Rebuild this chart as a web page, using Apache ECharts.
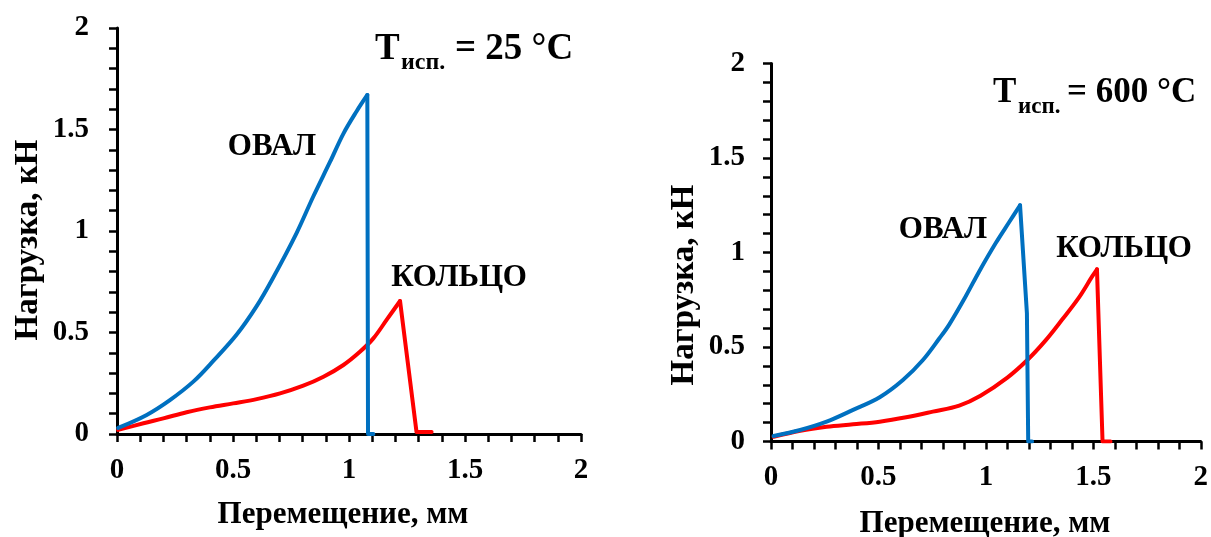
<!DOCTYPE html>
<html>
<head>
<meta charset="utf-8">
<script src="https://cdn.jsdelivr.net/npm/echarts@6/dist/echarts.min.js"></script>
<style>
  html, body { margin: 0; padding: 0; background: #fff; }
  #chart { width: 1211px; height: 537px; }
</style>
</head>
<body>
<div id="chart"></div>
<script>
// Load–displacement curves, test temperature 25 °C
const oval25X = [0.005, 0.128, 0.228, 0.329, 0.415, 0.516, 0.602, 0.673, 0.774, 0.846, 0.918, 0.976, 1.033, 1.079, 1.082, 1.105];
const oval25Y = [0.03, 0.094, 0.167, 0.258, 0.36, 0.49, 0.63, 0.77, 0.99, 1.17, 1.34, 1.48, 1.59, 1.67, 0, 0];
const ring25X = [0.005, 0.114, 0.2, 0.3, 0.4, 0.501, 0.602, 0.703, 0.803, 0.89, 0.976, 1.047, 1.105, 1.162, 1.22, 1.291, 1.356];
const ring25Y = [0.02, 0.053, 0.077, 0.107, 0.131, 0.151, 0.172, 0.2, 0.238, 0.282, 0.34, 0.405, 0.471, 0.562, 0.655, 0.01, 0.01];

// Load–displacement curves, test temperature 600 °C
const oval600X = [0.012, 0.136, 0.259, 0.382, 0.506, 0.614, 0.707, 0.784, 0.83, 0.907, 0.969, 1.046, 1.108, 1.159, 1.191, 1.197, 1.215];
const oval600Y = [0.029, 0.061, 0.105, 0.167, 0.234, 0.325, 0.431, 0.546, 0.62, 0.77, 0.9, 1.05, 1.16, 1.25, 0.678, 0, 0];
const ring600X = [0.012, 0.136, 0.259, 0.382, 0.506, 0.629, 0.753, 0.876, 0.975, 1.1, 1.193, 1.278, 1.355, 1.432, 1.494, 1.517, 1.543, 1.58];
const ring600Y = [0.025, 0.057, 0.078, 0.091, 0.105, 0.128, 0.158, 0.19, 0.242, 0.338, 0.431, 0.535, 0.645, 0.76, 0.872, 0.911, 0, 0];

// Axis range and tick labels
const axisMin = 0, axisMax = 2, tickStep = 0.1;
const tickLabels = ['0', '0.5', '1', '1.5', '2'];

const xTitle = 'Перемещение, мм';
const yTitle = 'Нагрузка, кН';
const ovalName = 'ОВАЛ';
const ringName = 'КОЛЬЦО';

const BLUE = '#0070C0';
const RED = '#FF0000';
const FONT = '"Liberation Serif", "Times New Roman", serif';

function pairs(xs, ys) { return xs.map((x, i) => [x, ys[i]]); }

function labelFmt(v) {
  const k = Math.round(v * 10);
  return k % 5 === 0 ? tickLabels[k / 5] : '';
}

function axis(gridIndex, margin) {
  return {
    gridIndex, type: 'value', min: axisMin, max: axisMax, interval: tickStep,
    axisLine: { show: true, onZero: false, lineStyle: { color: '#000', width: 3 } },
    axisTick: { show: true, length: 8, lineStyle: { color: '#000', width: 2.5 } },
    axisLabel: { formatter: labelFmt, margin, color: '#000', fontFamily: FONT, fontWeight: 'bold', fontSize: 29, showMinLabel: true, showMaxLabel: true },
    splitLine: { show: false }
  };
}

// Loading branch (smooth up to the peak) and fracture branch (straight drop)
function curve(name, gi, xs, ys, color) {
  const data = pairs(xs, ys);
  let peak = 0;
  ys.forEach((y, i) => { if (y > ys[peak]) peak = i; });
  const base = {
    name, type: 'line', xAxisIndex: gi, yAxisIndex: gi,
    showSymbol: false, symbol: 'none', animation: false,
    lineStyle: { color, width: 4, cap: 'round', join: 'round' }, z: color === RED ? 3 : 4
  };
  return [
    Object.assign({}, base, { data: data.slice(0, peak + 1), smooth: 0.35 }),
    Object.assign({}, base, { data: data.slice(peak), smooth: false })
  ];
}
function txt(x, y, text, size, align, rotation) {
  const el = {
    type: 'text', x, y,
    style: { text, font: 'bold ' + size + 'px ' + FONT, fill: '#000', align: align || 'center', verticalAlign: 'middle' }
  };
  if (rotation) el.rotation = rotation;
  return el;
}

const chart = echarts.init(document.getElementById('chart'), null, { renderer: 'canvas' });
chart.setOption({
  animation: false,
  backgroundColor: '#fff',
  grid: [
    { left: 117, top: 28, width: 464, height: 406 },
    { left: 771, top: 63.5, width: 431, height: 378 }
  ],
  xAxis: [axis(0, 22), axis(1, 22)],
  yAxis: [axis(0, 28), axis(1, 26)],
  series: [].concat(
    curve(ovalName, 0, oval25X, oval25Y, BLUE),
    curve(ringName, 0, ring25X, ring25Y, RED),
    curve(ovalName, 1, oval600X, oval600Y, BLUE),
    curve(ringName, 1, ring600X, ring600Y, RED)
  ),
  graphic: [
    // axis titles
    txt(343, 515, xTitle, 31),
    txt(985, 524, xTitle, 31),
    txt(28, 240, yTitle, 33, 'center', Math.PI / 2),
    txt(684, 285, yTitle, 33, 'center', Math.PI / 2),
    // curve labels
    txt(272, 147, ovalName, 31),
    txt(459, 278, ringName, 31),
    txt(943, 230, ovalName, 31),
    txt(1124, 249, ringName, 31),
    // test temperature, left panel
    txt(375, 49, 'T', 37, 'left'),
    txt(401, 63, 'исп.', 24, 'left'),
    txt(455, 49, '= 25 °C', 37, 'left'),
    // test temperature, right panel
    txt(993, 93, 'T', 35, 'left'),
    txt(1018, 107, 'исп.', 23, 'left'),
    txt(1067, 93, '= 600 °C', 35, 'left')
  ]
});
</script>
</body>
</html>
